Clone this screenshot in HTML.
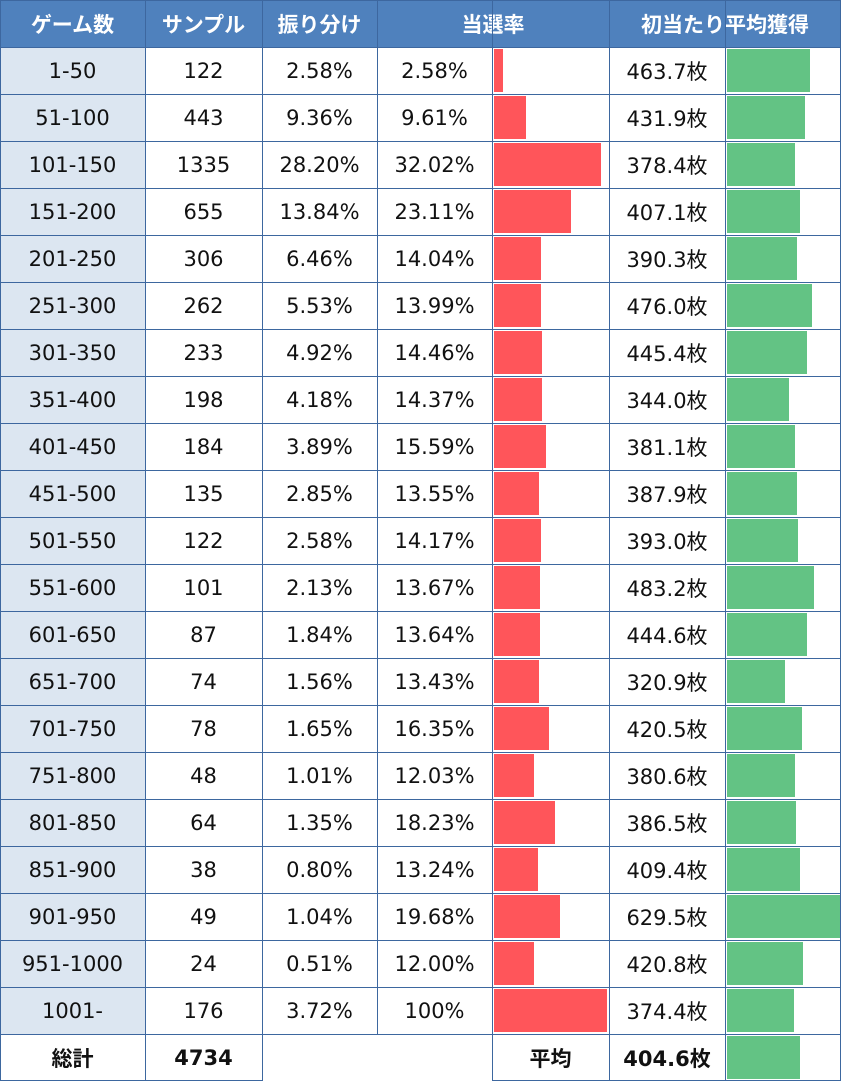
<!DOCTYPE html>
<html><head><meta charset="utf-8">
<style>
body{margin:0;width:841px;height:1083px;background:#fff;overflow:hidden;font-family:"DejaVu Sans","Noto Sans CJK JP",sans-serif;}
#t{position:absolute;left:0;top:0;width:841px;height:1083px;}
.c{position:absolute;box-sizing:border-box;display:flex;align-items:center;justify-content:center;font-size:21px;color:#111;}
.h{background:#4f81bd;color:#fff;font-weight:bold;font-size:21px;}
.bar{position:absolute;}
.ln{position:absolute;background:#3d679f;}
</style></head><body>
<div id="t"></div>
<script>
const ranges=["1-50","51-100","101-150","151-200","201-250","251-300","301-350","351-400","401-450","451-500","501-550","551-600","601-650","651-700","701-750","751-800","801-850","851-900","901-950","951-1000","1001-"];
const samples=[122,443,1335,655,306,262,233,198,184,135,122,101,87,74,78,48,64,38,49,24,176];
const shares=["2.58%","9.36%","28.20%","13.84%","6.46%","5.53%","4.92%","4.18%","3.89%","2.85%","2.58%","2.13%","1.84%","1.56%","1.65%","1.01%","1.35%","0.80%","1.04%","0.51%","3.72%"];
const hitRates=[2.58,9.61,32.02,23.11,14.04,13.99,14.46,14.37,15.59,13.55,14.17,13.67,13.64,13.43,16.35,12.03,18.23,13.24,19.68,12.00,100];
const hitLabels=["2.58%","9.61%","32.02%","23.11%","14.04%","13.99%","14.46%","14.37%","15.59%","13.55%","14.17%","13.67%","13.64%","13.43%","16.35%","12.03%","18.23%","13.24%","19.68%","12.00%","100%"];
const payouts=[463.7,431.9,378.4,407.1,390.3,476.0,445.4,344.0,381.1,387.9,393.0,483.2,444.6,320.9,420.5,380.6,386.5,409.4,629.5,420.8,374.4];
const totalSamples=4734;
const avgPayout=404.6;

const T=document.getElementById('t');
const X=[0,145,262,377,492,609,725,841];
const RH=47;
function cell(x0,x1,y,txt,cls,name,bg){
  const d=document.createElement('div');
  d.className='c '+(cls||'');
  d.style.left=x0+'px';d.style.top=y+'px';d.style.width=(x1-x0)+'px';d.style.height=RH+'px';
  if(bg)d.style.background=bg;
  d.textContent=txt;
  
  
  T.appendChild(d);return d;
}
function line(x,y,w,h){
  const l=document.createElement('div');l.className='ln';
  l.style.left=x+'px';l.style.top=y+'px';l.style.width=w+'px';l.style.height=h+'px';
  
  
  T.appendChild(l);
}
function bar(x,y,w,color,name){
  const b=document.createElement('div');b.className='bar';
  b.style.left=x+'px';b.style.top=(y+2)+'px';b.style.width=w+'px';b.style.height=(RH-4)+'px';b.style.background=color;
  
  
  T.appendChild(b);
}
const rateX=v=>Math.min(113,v*3.34);
const payX=v=>v/629.5*113;
// header
const heads=[["ゲーム数",0,1],["サンプル",1,2],["振り分け",2,3],["当選率",3,5],["初当たり平均獲得",5,7]];
heads.forEach((h,i)=>{cell(X[h[1]],X[h[2]],0,h[0],'h','header-'+i);});
// rows
ranges.forEach((r,i)=>{
  const y=RH*(i+1);
  cell(X[0],X[1],y,r,'','range-cell','#dce6f1');
  cell(X[1],X[2],y,samples[i],'','sample-cell');
  cell(X[2],X[3],y,shares[i],'','share-cell');
  cell(X[3],X[4],y,hitLabels[i],'','hit-rate-cell');
  bar(X[4]+2,y,rateX(hitRates[i]),'#ff555a','hit-rate-bar');
  cell(X[5],X[6],y,payouts[i].toFixed(1)+'枚','','payout-cell');
  bar(X[6]+2,y,payX(payouts[i]),'#63c384','payout-bar');
});
const yT=RH*22;
cell(X[0],X[1],yT,'総計','','total-label').style.fontWeight='bold';
cell(X[1],X[2],yT,totalSamples,'','total-samples').style.fontWeight='bold';
cell(X[4],X[5],yT,'平均','','average-label').style.fontWeight='bold';
cell(X[5],X[6],yT,avgPayout.toFixed(1)+'枚','','average-payout').style.fontWeight='bold';
bar(X[6]+2,yT,payX(avgPayout),'#63c384','average-payout-bar');
// grid lines
for(let r=0;r<=22;r++){line(0,r*RH,841,1);}
X.forEach(x=>line(Math.min(x,840),0,1,RH*22));
line(0,yT,1,RH);line(X[1],yT,1,RH);line(X[2],yT,1,RH);
line(X[4],yT,1,RH);line(X[5],yT,1,RH);line(X[6],yT,1,RH);line(840,yT,1,RH);
line(0,yT+RH-1,X[2],1);line(X[4],yT+RH-1,841-X[4],1);
</script>
</body></html>
